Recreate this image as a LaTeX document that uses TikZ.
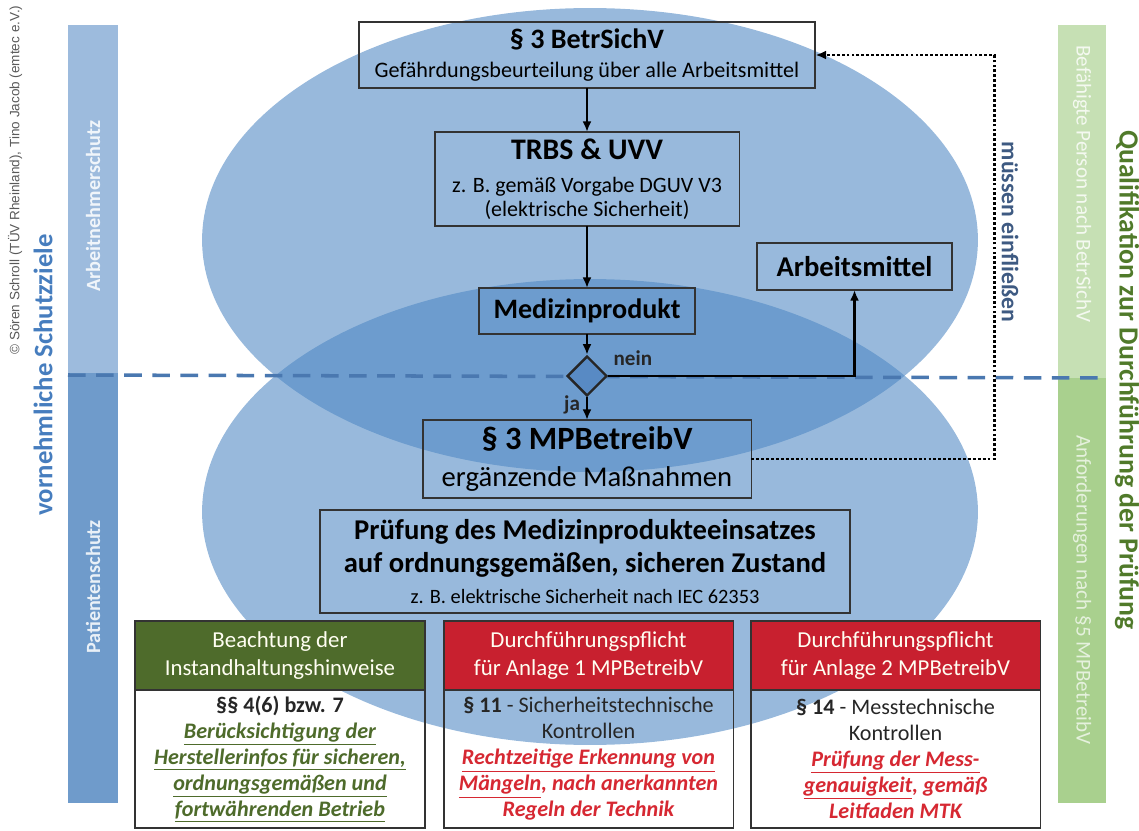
\documentclass[tikz,border=0pt]{standalone}
\usepackage{fontspec}
\setmainfont{Carlito}
\newfontfamily\copyfont{Liberation Sans}
\usetikzlibrary{arrows.meta,positioning,shapes.geometric,calc}
\definecolor{ellblue}{RGB}{78,135,195}
\definecolor{barblue}{RGB}{157,187,221}
\definecolor{bardark}{RGB}{111,155,203}
\definecolor{barlgreen}{RGB}{198,224,180}
\definecolor{bargreen}{RGB}{169,208,142}
\definecolor{hdgreen}{RGB}{78,107,43}
\definecolor{hdred}{RGB}{200,32,47}
\definecolor{txred}{RGB}{214,40,50}
\definecolor{qgreen}{RGB}{80,122,42}
\definecolor{sblue}{RGB}{70,125,190}
\definecolor{mblue}{RGB}{62,90,130}
\definecolor{dashblue}{RGB}{74,120,176}
\definecolor{diafill}{RGB}{88,138,196}
\newcommand{\fs}[2]{\fontsize{#1}{#2}\selectfont}

\begin{document}
\begin{tikzpicture}[x=0.02cm,y=-0.02cm,
  box/.style={draw=black!80, line width=1.1pt, align=center, inner sep=1pt, outer sep=0pt},
  hdr/.style={box, minimum width=5.8cm, minimum height=1.38cm, text=white!95!yellow, font=\fs{13}{15.5}},
  body/.style={box, minimum width=5.8cm, minimum height=2.76cm, below=0pt of #1, text=black!85, font=\fs{12.6}{14.8}},
  flow/.style={-{Latex[length=6pt,width=5pt]}, line width=1.4pt},
  lbl/.style={font=\bfseries\fs{12}{14}, text=black!85},
  side/.style={font=\fs{12}{14}}]
\useasboundingbox (0,0) rectangle (1139,831);
% Schutzbereiche
\fill[ellblue, opacity=.58] (590,240) ellipse [x radius=7.76cm, y radius=4.64cm];
\fill[ellblue, opacity=.58] (590,512) ellipse [x radius=7.76cm, y radius=4.66cm];
\fill[barblue] (68,25) rectangle (118,373);
\fill[bardark] (68,373) rectangle (118,803);
\fill[barlgreen] (1058,25) rectangle (1106,378);
\fill[bargreen] (1058,378) rectangle (1106,803);
\draw[dashblue, line width=2pt, dash pattern=on 10pt off 6pt] (68,375) -- (1106,378);

\node[rotate=90, text=black!65, font=\copyfont\fs{7.7}{9}] (copy) at (15,180) {© Sören Schroll (TÜV Rheinland), Tino Jacob (emtec e.V.)};
\node[rotate=90, text=sblue, font=\bfseries\fs{15.2}{18}] (ziele) at (43,375) {vornehmliche Schutzziele};
\node[side, rotate=90, text=white!85!barblue, font=\bfseries\fs{11.5}{14}] (arbschutz) at (93,206) {Arbeitnehmerschutz};
\node[side, rotate=90, text=white!85!bardark, font=\bfseries\fs{11.5}{14}] (patschutz) at (93,587) {Patientenschutz};
\node[side, rotate=-90, text=white!80!barlgreen] (befp) at (1082,184) {Befähigte Person nach BetrSichV};
\node[side, rotate=-90, text=white!70!bargreen] (anford) at (1082,590) {Anforderungen nach §5 MPBetreibV};
\node[rotate=-90, text=qgreen, font=\bfseries\fs{15.8}{18}] (quali) at (1127,380) {Qualifikation zur Durchführung der Prüfung};

% Ablauf
\node[box, minimum width=9.14cm, minimum height=1.32cm, font=\fs{12.6}{15.5}] (bsv) at (587,55)
  {{\bfseries\fs{16}{19}§ 3 BetrSichV}\\[1pt]Gefährdungsbeurteilung über alle Arbeitsmittel};
\node[box, minimum width=6.1cm, minimum height=1.88cm, font=\fs{12.5}{13.7}] (trbs) at (587,179)
  {{\bfseries\fs{17}{21}TRBS \& UVV}\\[5pt]z. B. gemäß Vorgabe DGUV V3\\(elektrische Sicherheit)};
\node[box, minimum width=3.9cm, minimum height=0.94cm, font=\bfseries\fs{16.3}{18}] (arbm) at (854.5,266.5) {Arbeitsmittel};
\node[box, minimum width=4.32cm, minimum height=0.92cm, font=\bfseries\fs{16}{18}] (medp) at (587,311) {Medizinprodukt};
\node[diamond, draw=black!85, line width=1.4pt, fill=diafill, inner sep=0pt, minimum width=0.8cm, minimum height=0.8cm] (dec) at (587,376) {};
\node[box, minimum width=6.58cm, minimum height=1.56cm, font=\fs{16.3}{20.5}] (mpb) at (587,459)
  {{\bfseries\fs{18.5}{21}§ 3 MPBetreibV}\\[1pt]ergänzende Maßnahmen};
\node[box, minimum width=10.6cm, minimum height=2.06cm, font=\bfseries\fs{16.3}{18.8}] (pruef) at (585,561.5)
  {Prüfung des Medizinprodukteeinsatzes\\auf ordnungsgemäßen, sicheren Zustand\\[-1.5pt]{\mdseries\fs{11.6}{14}z. B. elektrische Sicherheit nach IEC 62353}};

\draw[flow] (bsv) -- (trbs);
\draw[flow] (trbs) -- (medp);
\draw[flow] (medp) -- (dec);
\draw[flow] (dec) -- node[lbl, left, pos=0.35] {ja} (mpb);
\draw[flow] (dec.east) -| node[lbl, pos=0.05, above=2pt] {nein} (arbm);
\draw[line width=1.6pt, dash pattern=on 1.6pt off 1.2pt, -{Latex[length=6pt,width=5pt]}] (mpb.east) -- ++(243,0) |- (bsv.east);
\node[rotate=-90, text=mblue, font=\bfseries\fs{13.5}{16}] (muss) at (1010,232) {müssen einfließen};

% Pruefpflichten
\node[hdr, fill=hdgreen] (hdA) at (280,655.5) {Beachtung der\\Instandhaltungshinweise};
\node[body=hdA] (bdA) {\textbf{§§ 4(6) bzw. 7}\\
  \textcolor{hdgreen}{\bfseries\itshape\underline{Berücksichtigung der}}\\
  \textcolor{hdgreen}{\bfseries\itshape\underline{Herstellerinfos für sicheren,}}\\
  \textcolor{hdgreen}{\bfseries\itshape\underline{ordnungsgemäßen und}}\\
  \textcolor{hdgreen}{\bfseries\itshape\underline{fortwährenden Betrieb}}};
\node[hdr, fill=hdred] (hdB) at (588.5,655.5) {Durchführungspflicht\\für Anlage 1 MPBetreibV};
\node[body=hdB] (bdB) {\textbf{§ 11} - Sicherheitstechnische\\Kontrollen\\
  \textcolor{txred}{\bfseries\itshape\underline{Rechtzeitige Erkennung von}}\\
  \textcolor{txred}{\bfseries\itshape\underline{Mängeln}, nach anerkannten}\\
  \textcolor{txred}{\bfseries\itshape Regeln der Technik}};
\node[hdr, fill=hdred] (hdC) at (895.5,655.5) {Durchführungspflicht\\für Anlage 2 MPBetreibV};
\node[body=hdC] (bdC) {\textbf{§ 14} - Messtechnische\\Kontrollen\\
  \textcolor{txred}{\bfseries\itshape\underline{Prüfung der Mess-}}\\
  \textcolor{txred}{\bfseries\itshape\underline{genauigkeit}, gemäß}\\
  \textcolor{txred}{\bfseries\itshape Leitfaden MTK}};
\end{tikzpicture}
\end{document}
